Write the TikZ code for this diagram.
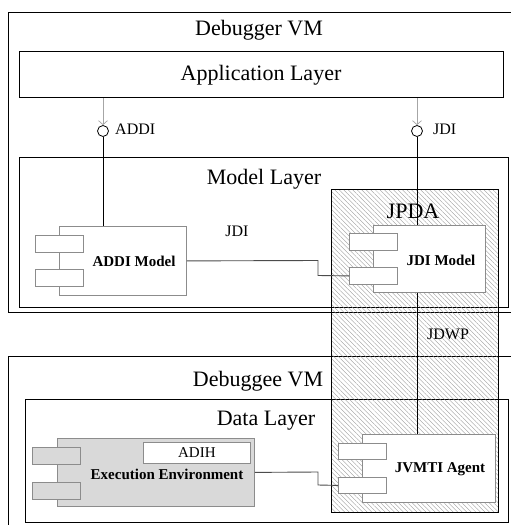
\documentclass[tikz,border=0pt]{standalone}
\usepackage{fontspec}
\setmainfont{Liberation Serif}
\usetikzlibrary{patterns.meta,arrows.meta}
\definecolor{compgrey}{HTML}{8C8C8C}
\definecolor{envfill}{HTML}{D9D9D9}
\tikzset{
  layerbox/.style={draw=black, line width=1pt, inner sep=0pt, anchor=north west},
  comp/.style={draw=compgrey, line width=0.8pt, fill=white, inner sep=0pt, anchor=north west},
  port/.style={comp, minimum width=48pt, minimum height=17pt},
  titletext/.style={font=\fontsize{22}{24}\selectfont, inner sep=0pt},
  smalltext/.style={font=\fontsize{16}{18}\selectfont, inner sep=0pt},
  boldtext/.style={font=\fontsize{15}{17}\selectfont\bfseries, inner sep=0pt},
  conn/.style={draw=black!70, line width=0.9pt},
  ifline/.style={draw=black!35, line width=0.7pt, -{Straight Barb[length=4pt,width=9pt]}},
  lolli/.style={circle, draw=black, line width=0.8pt, fill=white, minimum size=11pt, inner sep=0pt},
  hatch/.style={pattern={Lines[angle=-45,distance=3.2pt,line width=0.35pt]}, pattern color=black!40}
}
\begin{document}
\begin{tikzpicture}[x=1pt,y=-1pt]
\useasboundingbox (0,0) rectangle (511,525);
\clip (0,0) rectangle (511,525);
\fill[white] (0,0) rectangle (511,525);
% layers
\node[layerbox, minimum width=507pt, minimum height=300pt] (dbgr) at (8,12) {};
\node[titletext] (dbgrT) at (259,30) {Debugger VM};
\node[layerbox, minimum width=484pt, minimum height=46pt] (app) at (19,51) {};
\node[titletext] (appT) at (261,75) {Application Layer};
\node[layerbox, minimum width=489pt, minimum height=150pt] (model) at (19,157) {};
\node[titletext] (modelT) at (264,179) {Model Layer};
\node[layerbox, minimum width=507pt, minimum height=200pt] (dbge) at (8,356) {};
\node[titletext] (dbgeT) at (258,381) {Debuggee VM};
\node[layerbox, minimum width=483pt, minimum height=123pt] (data) at (25,399) {};
\node[titletext] (dataT) at (266,421) {Data Layer};
% JPDA
\node[layerbox, hatch, minimum width=167pt, minimum height=323pt] (jpda) at (331,189) {};
\node[titletext] (jpdaT) at (413,211) {JPDA};
% interfaces
\node[lolli] (addiIf) at (103,131) {};
\node[lolli] (jdiIf) at (417,131) {};
\node[smalltext, anchor=west] (addiL) at (115,129) {ADDI};
\node[smalltext, anchor=west] (jdiL) at (433,129) {JDI};
% ADDI Model component
\node[comp, minimum width=127pt, minimum height=69pt] (addiM) at (59,226) {};
\node[port] (addiP1) at (35,235) {};
\node[port] (addiP2) at (35,269) {};
\node[boldtext] (addiT) at (134,261) {ADDI Model};
% JDI Model component
\node[comp, minimum width=112pt, minimum height=67pt] (jdiM) at (373,225) {};
\node[port] (jdiP1) at (349,233) {};
\node[port] (jdiP2) at (349,267) {};
\node[boldtext] (jdiT) at (441,260) {JDI Model};
% Execution Environment
\node[comp, fill=envfill, minimum width=197pt, minimum height=68pt] (execM) at (57,438) {};
\node[port, fill=envfill] (execP1) at (32,447) {};
\node[port, fill=envfill] (execP2) at (32,482) {};
\node[comp, minimum width=107pt, minimum height=21pt] (adih) at (143,442) {};
\node[font=\fontsize{15}{17}\selectfont, inner sep=0pt] (adihT) at (adih.center) {ADIH};
\node[boldtext] (execT) at (167,474) {Execution Environment};
% JVMTI Agent
\node[comp, minimum width=133pt, minimum height=68pt] (jvM) at (362,434) {};
\node[port, minimum height=16pt] (jvP1) at (338,443) {};
\node[port, minimum height=16pt] (jvP2) at (338,477) {};
\node[boldtext] (jvT) at (440,469) {JVMTI Agent};
% connectors
\draw[ifline] (app.south -| addiIf) -- (addiIf.north);
\draw[ifline] (app.south -| jdiIf) -- (jdiIf.north);
\draw[line width=0.9pt] (addiIf.south) -- (addiIf |- addiM.north);
\draw[line width=0.9pt] (jdiIf.south) -- (jdiIf |- jdiM.north);
\draw[line width=0.9pt] (jdiIf |- jdiM.south) -- (jdiIf |- jvM.north);
\node[smalltext, anchor=west] (jdwpL) at (427,334) {JDWP};
\node[smalltext] (jdiMidL) at (237,231) {JDI};
\draw[conn] (addiM.east) -- (318,260.5) -- (318,275.5) -- (jdiP2.west);
\draw[conn] (execM.east) -- (318,472) -- (318,485) -- (jvP2.west);
\end{tikzpicture}
\end{document}
